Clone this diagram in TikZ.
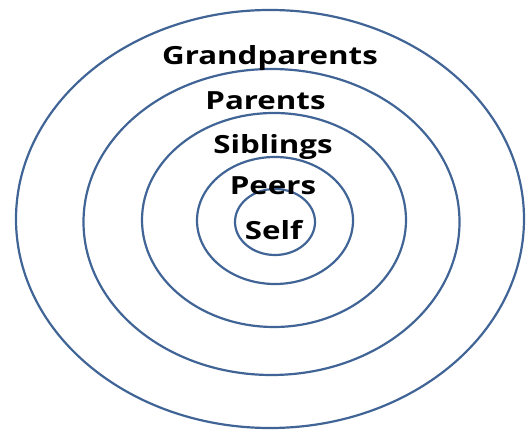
\documentclass[tikz,border=0pt]{standalone}
\usepackage{fontspec}
\setmainfont{Open Sans}
\newfontfamily\lblfont[FakeStretch=1.25]{Open Sans}
\definecolor{ringblue}{RGB}{65,100,150}
\begin{document}
\begin{tikzpicture}[x=1pt,y=1pt,
  ring/.style={draw=ringblue,line width=2.2pt},
  lbl/.style={anchor=base,inner sep=0pt,font=\lblfont\fontsize{25}{30}\selectfont\bfseries}]
\useasboundingbox (0,0) rectangle (526,430);
\draw[ring] (270,211) ellipse [x radius=254,y radius=209];
\draw[ring] (271.5,208) ellipse [x radius=188,y radius=153];
\draw[ring] (274,210) ellipse [x radius=132,y radius=107];
\draw[ring] (275,209.5) ellipse [x radius=78,y radius=63.5];
\draw[ring] (275,208) ellipse [x radius=40,y radius=33];
\node[lbl] (gp) at (270,365) {Grandparents};
\node[lbl] (pa) at (265.5,320) {Parents};
\node[lbl] (si) at (273,276) {Siblings};
\node[lbl] (pe) at (273,235) {Peers};
\node[lbl] (se) at (273.5,190) {Self};
\end{tikzpicture}
\end{document}
